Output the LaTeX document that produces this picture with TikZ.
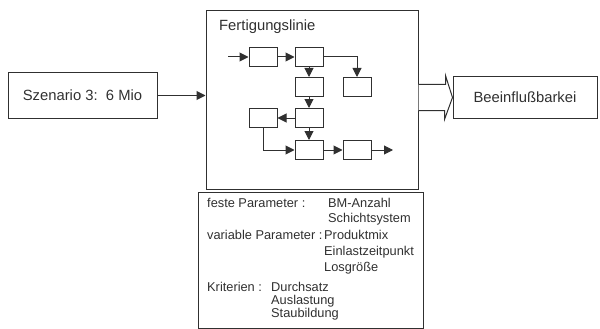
\documentclass[tikz,border=0pt]{standalone}
\usepackage{fontspec}
\setmainfont{Liberation Sans}
\usetikzlibrary{positioning, arrows.meta, calc}
\definecolor{ink}{HTML}{303030}

\begin{document}
\begin{tikzpicture}[x=1pt, y=-1pt,
                % Node styles
                box/.style={draw=ink, line width=1pt, inner sep=0pt},
                station/.style={box, minimum width=28pt, minimum height=19pt},
                title/.style={font=\fontsize{14.8}{18}\selectfont, text=ink},
                param/.style={font=\fontsize{12.8}{15}\selectfont, text=ink, anchor=base west, inner sep=0pt},
                % Arrow styles
                flow/.style={-{Triangle[length=9pt, width=9pt]}, line width=1pt, draw=ink},
                broad/.style={line width=1pt, draw=ink, fill=white},
            ]
                \useasboundingbox (0,0) rectangle (600,329);

                % Main blocks
                \node[box, title, minimum width=149pt, minimum height=45pt] (szen) at (82.5,95.5) {Szenario 3:\ \ 6 Mio};
                \node[box, minimum width=212pt, minimum height=178pt] (fert) at (312,100) {};
                \node[title, anchor=west, inner sep=0pt] (fertlbl) at (219,27) {Fertigungslinie};
                \node[box, title, minimum width=144pt, minimum height=41pt] (beein) at (525,97.5) {Beeinflußbarkei};
                \node[box, minimum width=225pt, minimum height=136pt] (par) at (310.5,260) {};

                % Stations of the line
                \node[station] (a) at (263,57) {};
                \node[station] (b) at (309,57) {};
                \node[station] (c) at (357,87) {};
                \node[station] (d) at (309,87) {};
                \node[station] (e) at (309,118) {};
                \node[station] (f) at (263,118) {};
                \node[station] (g) at (309,150) {};
                \node[station] (h) at (357,150) {};
                \coordinate (in) at (228,57);
                \coordinate (out) at (393,150);

                % Material flow
                \draw[flow] (in) -- (a);
                \draw[flow] (a) -- (b);
                \draw[flow] (b) -- (d);
                \draw[flow] (b.east) -| (c);
                \draw[flow] (d) -- (e);
                \draw[flow] (e) -- (f);
                \draw[flow] (e) -- (g);
                \draw[flow] (f) |- (g);
                \draw[flow] (g) -- (h);
                \draw[flow] (h) -- (out);

                % Parameters
                \node[param] (fixlbl) at (207,207) {feste Parameter :};
                \node[param] (fix1) at (328,207) {BM-Anzahl};
                \node[param] (fix2) at (328,222.5) {Schichtsystem};
                \node[param] (varlbl) at (207,239.5) {variable Parameter :};
                \node[param] (var1) at (324,239.5) {Produktmix};
                \node[param] (var2) at (324,255) {Einlastzeitpunkt};
                \node[param] (var3) at (324,271) {Losgröße};
                \node[param] (krilbl) at (207,291) {Kriterien :};
                \node[param] (kri1) at (271,291) {Durchsatz};
                \node[param] (kri2) at (271,304) {Auslastung};
                \node[param] (kri3) at (271,317) {Staubildung};

                % Input and output
                \draw[flow] (szen.east) -- (szen.east -| fert.west);
                \draw[broad] ($(fert.east |- beein.west)+(0,-13)$) -- ++(27,0) -- ++(0,-9)
                    -- (beein.west) -- ++(-8,22) -- ++(0,-9) -- ($(fert.east |- beein.west)+(0,13)$);
            \end{tikzpicture}
\end{document}
